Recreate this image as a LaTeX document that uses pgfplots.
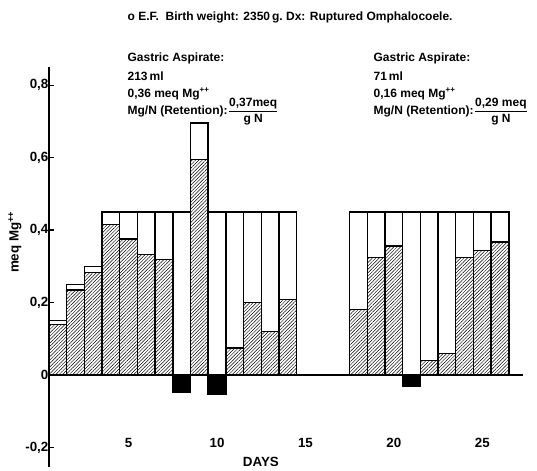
\documentclass[border=0pt]{standalone}
\usepackage{fontspec}
\setmainfont{Liberation Sans}
\usepackage{amsmath}
\usepackage{pgfplots}
\pgfplotsset{compat=1.18}
\usetikzlibrary{patterns.meta}
\newcommand{\tf}{\bfseries\fontsize{9}{11}\selectfont}
\begin{document}
\begin{tikzpicture}
\useasboundingbox (-36.75pt,-3pt) rectangle (366pt,350.25pt);
\begin{axis}[
  scale only axis, width=355.5pt, height=300pt,
  xmin=0.5, xmax=27.3, ymin=-0.254, ymax=0.85,
  clip=false,
  axis y line*=left, axis x line*=bottom,
  x axis line style={draw=none},
  y axis line style={line width=1.1pt},
  xtick={5,10,15,20,25}, xtick style={draw=none},
  ytick={-0.2,0,0.2,0.4,0.6,0.8},
  ytick align=inside,
  major tick length=3.5pt,
  ytick style={line width=0.9pt, black},
  /pgf/number format/assume math mode=true,
  /pgf/number format/use comma,
  /pgf/number format/fixed,
  ticklabel style={font=\bfseries\fontsize{10}{12}\selectfont},
  yticklabel style={anchor=east, xshift=3pt},
  xticklabel style={anchor=center, yshift=18pt},
]
% total intake (white)
\addplot[ybar, bar width=1, bar shift=0pt, fill=white, draw=black, line width=1.05pt]
coordinates {(1,0.15) (2,0.25) (3,0.30) (4,0.45) (5,0.45) (6,0.45) (7,0.45) (8,0.45) (9,0.695)
 (10,0.45) (11,0.45) (12,0.45) (13,0.45) (14,0.45)
 (18,0.45) (19,0.45) (20,0.45) (21,0.45) (22,0.45) (23,0.45) (24,0.45) (25,0.45) (26,0.45)};
% retention (hatched)
\addplot[ybar, bar width=1, bar shift=0pt, draw=black, line width=1.05pt,
  pattern={Lines[angle=45,distance=1.8pt,line width=0.35pt]}, pattern color=black]
coordinates {(1,0.14) (2,0.235) (3,0.283) (4,0.416) (5,0.375) (6,0.333) (7,0.318) (9,0.594)
 (11,0.074) (12,0.2) (13,0.12) (14,0.209)
 (18,0.18) (19,0.324) (20,0.356) (22,0.04) (23,0.06) (24,0.324) (25,0.343) (26,0.367)};
% negative balance (black)
\addplot[ybar, bar width=1, bar shift=0pt, fill=black, draw=black, line width=1.05pt]
coordinates {(8,-0.047) (10,-0.053) (21,-0.031)};
\draw[line width=1.1pt] (axis cs:0.5,0) -- (axis cs:27.3,0);
% texts
\node[anchor=west, font=\tf] at (axis cs:4.68,0.988) {o\ E.F.\ \ Birth weight: 2350\,g.\ Dx: Ruptured Omphalocoele.};
\node[anchor=west, font=\tf] at (axis cs:4.68,0.875) {Gastric Aspirate:};
\node[anchor=west, font=\tf] at (axis cs:4.68,0.825) {213\,ml};
\node[anchor=west, font=\tf] at (axis cs:4.68,0.776) {0,36 meq Mg\textsuperscript{++}};
\node[anchor=west, font=\tf] at (axis cs:4.68,0.726) {Mg/N (Retention):$\dfrac{\text{\tf 0,37meq}}{\text{\tf g N}}$};
\node[anchor=west, font=\tf] at (axis cs:18.59,0.875) {Gastric Aspirate:};
\node[anchor=west, font=\tf] at (axis cs:18.59,0.825) {71\,ml};
\node[anchor=west, font=\tf] at (axis cs:18.59,0.776) {0,16 meq Mg\textsuperscript{++}};
\node[anchor=west, font=\tf] at (axis cs:18.59,0.726) {Mg/N (Retention):$\dfrac{\text{\tf 0,29 meq}}{\text{\tf g N}}$};
\node[rotate=90, font=\bfseries\fontsize{10}{12}\selectfont] at ([xshift=-25.5pt]axis cs:0.5,0.367) {meq Mg\textsuperscript{++}};
\node[font=\bfseries\fontsize{10}{12}\selectfont] at (axis cs:12.48,-0.24) {DAYS};
\end{axis}
\end{tikzpicture}
\end{document}
